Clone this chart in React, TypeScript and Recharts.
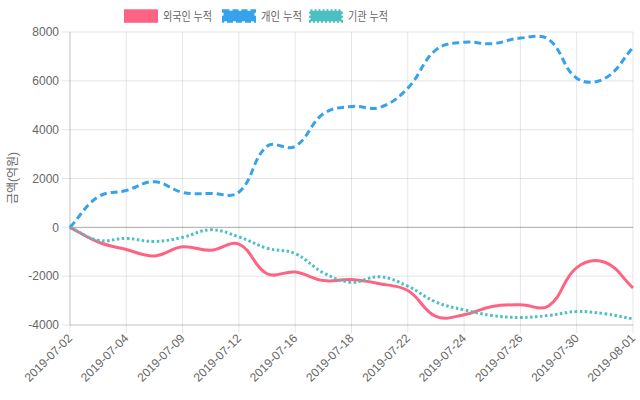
import React from 'react';
import { LineChart, Line, XAxis, YAxis, CartesianGrid, ReferenceLine } from 'recharts';

const dates = [
  '2019-07-02', '2019-07-03', '2019-07-04', '2019-07-05', '2019-07-09', '2019-07-10',
  '2019-07-12', '2019-07-15', '2019-07-16', '2019-07-17', '2019-07-18', '2019-07-19',
  '2019-07-22', '2019-07-23', '2019-07-24', '2019-07-25', '2019-07-26', '2019-07-29',
  '2019-07-30', '2019-07-31', '2019-08-01',
];
const foreign = [0, -600, -910, -1170, -800, -940, -690, -1900, -1830, -2180, -2140, -2310, -2590, -3650, -3580, -3240, -3170, -3220, -1650, -1430, -2480];
const individual = [0, 1250, 1510, 1870, 1430, 1390, 1440, 3320, 3320, 4650, 4950, 4910, 5700, 7270, 7580, 7520, 7750, 7700, 6110, 6100, 7360];
const institution = [0, -530, -455, -580, -410, -100, -390, -855, -1075, -1860, -2250, -2025, -2410, -3060, -3380, -3610, -3690, -3610, -3450, -3540, -3750];
const yTicks = [-4000, -2000, 0, 2000, 4000, 6000, 8000];
const seriesNames = ['외국인 누적', '개인 누적', '기관 누적'];
const yTitle = '금액(억원)';

const RED = 'rgb(255,99,132)';
const BLUE = 'rgb(54,162,235)';
const TEAL = 'rgb(75,192,192)';
const FONT = '"Liberation Sans", Arial, "Noto Sans CJK KR", sans-serif';

const data = dates.map((d, i) => ({ date: d, foreign: foreign[i], individual: individual[i], institution: institution[i] }));
const gridDates = dates.filter((_, i) => i % 2 === 0);

// Chart.js-style bezier spline (tension 0.4)
const chartjsCurve = (tension: number) => (context: any) => {
  let pts: number[][] = [];
  return {
    areaStart() {},
    areaEnd() {},
    lineStart() { pts = []; },
    point(x: number, y: number) { pts.push([+x, +y]); },
    lineEnd() {
      const n = pts.length;
      if (!n) return;
      context.moveTo(pts[0][0], pts[0][1]);
      if (n === 1) return;
      const cps = pts.map((p, i) => {
        const prev = pts[i - 1] || p;
        const next = pts[i + 1] || p;
        const d01 = Math.hypot(p[0] - prev[0], p[1] - prev[1]);
        const d12 = Math.hypot(next[0] - p[0], next[1] - p[1]);
        let s01 = d01 / (d01 + d12);
        let s12 = d12 / (d01 + d12);
        if (!isFinite(s01)) s01 = 0;
        if (!isFinite(s12)) s12 = 0;
        const fa = tension * s01;
        const fb = tension * s12;
        return {
          px: p[0] - fa * (next[0] - prev[0]),
          py: p[1] - fa * (next[1] - prev[1]),
          nx: p[0] + fb * (next[0] - prev[0]),
          ny: p[1] + fb * (next[1] - prev[1]),
        };
      });
      for (let i = 1; i < n; i++) {
        context.bezierCurveTo(cps[i - 1].nx, cps[i - 1].ny, cps[i].px, cps[i].py, pts[i][0], pts[i][1]);
      }
    },
  };
};
const curve = chartjsCurve(0.4);

const XTick = (props: any) => {
  const { x, y, payload } = props;
  return (
    <g transform={`translate(${x},${y + 1})`}>
      <text transform="rotate(-45)" textAnchor="end" dy="0.35em" fill="#666" fontSize={12} fontFamily={FONT}>
        {payload.value}
      </text>
    </g>
  );
};

const legendItems = [
  { name: seriesNames[0], color: RED, dash: undefined, boxX: 125.5, textLen: 49 },
  { name: seriesNames[1], color: BLUE, dash: '6 3', boxX: 223.5, textLen: 41 },
  { name: seriesNames[2], color: TEAL, dash: '2 2', boxX: 310.5, textLen: 40 },
];

export default function App() {
  return (
    <div style={{ position: 'absolute', left: 0, top: 0, width: 640, height: 400, background: '#fff' }}>
      <LineChart width={640} height={400} data={data} margin={{ top: 32, right: 7, bottom: 0, left: 0 }}>
        <CartesianGrid vertical={false} stroke="rgba(0,0,0,0.1)" />
        {gridDates.map((d) => (
          <ReferenceLine key={d} x={d} stroke="rgba(0,0,0,0.1)" />
        ))}
        <ReferenceLine y={0} stroke="rgba(0,0,0,0.25)" />
        <XAxis
          dataKey="date"
          interval={1}
          tickSize={8}
          height={75}
          tick={<XTick />}
          tickLine={{ stroke: 'rgba(0,0,0,0.1)' }}
          axisLine={{ stroke: 'rgba(0,0,0,0.15)' }}
        />
        <YAxis
          width={70}
          domain={[-4000, 8000]}
          ticks={yTicks}
          tickSize={8}
          tickMargin={3}
          tick={{ fill: '#666', fontSize: 12, fontFamily: FONT }}
          tickLine={{ stroke: 'rgba(0,0,0,0.1)' }}
          axisLine={{ stroke: 'rgba(0,0,0,0.15)' }}
        />
        <Line dataKey="foreign" name={seriesNames[0]} type={curve as any} stroke={RED} strokeWidth={3} dot={false} activeDot={false} isAnimationActive={false} />
        <Line dataKey="individual" name={seriesNames[1]} type={curve as any} stroke={BLUE} strokeWidth={3} strokeDasharray="7 4" dot={false} activeDot={false} isAnimationActive={false} />
        <Line dataKey="institution" name={seriesNames[2]} type={curve as any} stroke={TEAL} strokeWidth={3} strokeDasharray="2.5 2.5" dot={false} activeDot={false} isAnimationActive={false} />
      </LineChart>
      <svg width={640} height={400} style={{ position: 'absolute', left: 0, top: 0, pointerEvents: 'none' }}>
        {legendItems.map((it) => (
          <g key={it.name}>
            <rect x={it.boxX} y={10.8} width={31} height={10.5} fill={it.color} stroke={it.color} strokeWidth={3} strokeDasharray={it.dash} />
            <text
              x={it.boxX + 37.5}
              y={16.5}
              dominantBaseline="central"
              fill="#666"
              fontSize={12}
              fontFamily={FONT}
              textLength={it.textLen}
              lengthAdjust="spacingAndGlyphs"
            >
              {it.name}
            </text>
          </g>
        ))}
        <text
          transform="translate(13,178) rotate(-90)"
          textAnchor="middle"
          dominantBaseline="central"
          fill="#666"
          fontSize={12}
          fontFamily={FONT}
        >
          {yTitle}
        </text>
      </svg>
    </div>
  );
}
